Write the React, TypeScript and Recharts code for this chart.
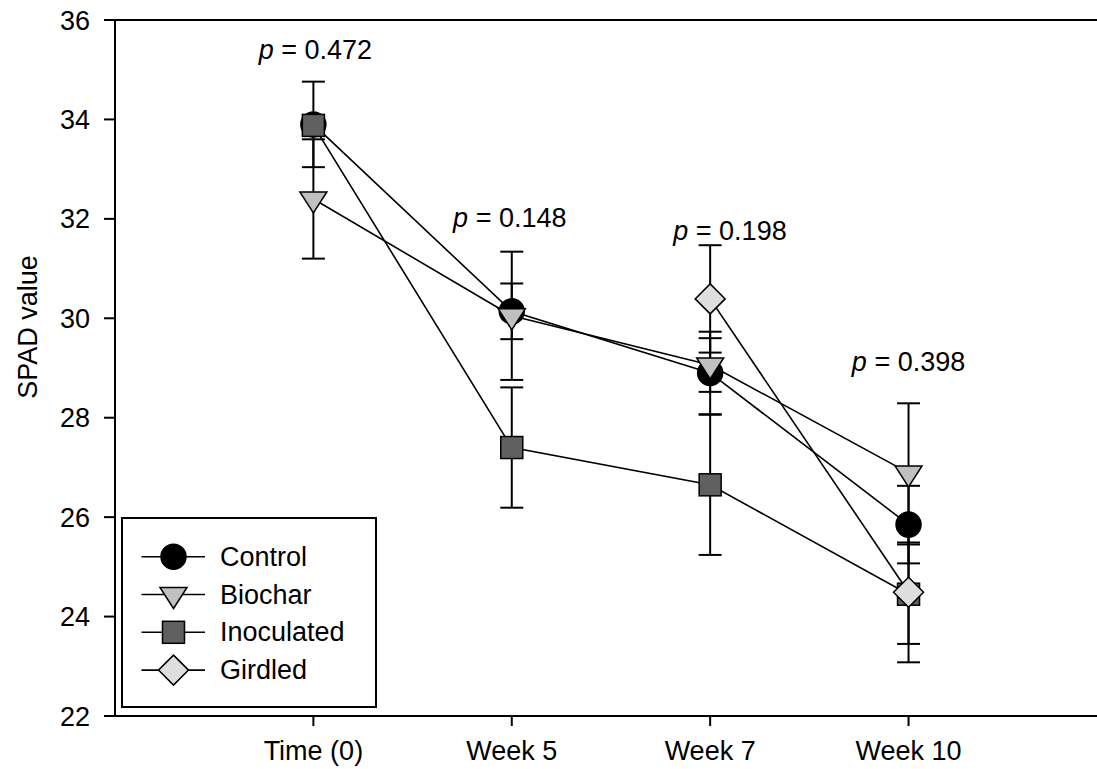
import { LineChart, Line, XAxis, YAxis, ErrorBar, ReferenceLine, ReferenceDot, Legend } from "recharts"

const weeks = ["Time (0)", "Week 5", "Week 7", "Week 10"]

const control = [33.9, 30.14, 28.9, 25.85]
const controlErr = [0.86, 0.56, 0.83, 0.78]
const biochar = [32.4, 30.05, 29.06, 26.89]
const biocharErr = [1.2, 1.29, 0.54, 1.4]
const inoculated = [33.88, 27.4, 26.65, 24.45]
const inoculatedErr = [0.15, 1.21, 1.41, 1.0]
const girdled = [null, null, 30.39, 24.49]
const girdledErr = [null, null, 1.08, 1.41]

const pValues = ["0.472", "0.148", "0.198", "0.398"]
const pLabelX = [1.01, 1.99, 3.1, 4.0]
const pLabelY = [35.4, 32.02, 31.76, 29.12]

const yTicks = [22, 24, 26, 28, 30, 32, 34, 36]

const FONT = "'Liberation Sans', Arial, sans-serif"
const FS = 27

const series = [
  { key: "control", name: "Control", kind: "circle", fill: "#000000" },
  { key: "biochar", name: "Biochar", kind: "triangle", fill: "#c0c0c0" },
  { key: "inoculated", name: "Inoculated", kind: "square", fill: "#606060" },
  { key: "girdled", name: "Girdled", kind: "diamond", fill: "#dedede" },
]

const data = weeks.map((w, i) => ({
  x: i + 1,
  name: w,
  control: control[i],
  controlErr: controlErr[i],
  biochar: biochar[i],
  biocharErr: biocharErr[i],
  inoculated: inoculated[i],
  inoculatedErr: inoculatedErr[i],
  girdled: girdled[i],
  girdledErr: girdledErr[i],
}))

function Marker({ kind, cx, cy, fill }: { kind: string; cx: number; cy: number; fill: string }) {
  if (cx == null || cy == null || isNaN(cx) || isNaN(cy)) return null
  const s = { fill, stroke: "#000", strokeWidth: 1.5 }
  if (kind === "circle") return <circle cx={cx} cy={cy} r={12.5} {...s} />
  if (kind === "triangle")
    return <polygon points={`${cx - 13.5},${cy - 7} ${cx + 13.5},${cy - 7} ${cx},${cy + 14}`} {...s} />
  if (kind === "square") return <rect x={cx - 11} y={cy - 11} width={22} height={22} {...s} />
  return <polygon points={`${cx},${cy - 15} ${cx + 15},${cy} ${cx},${cy + 15} ${cx - 15},${cy}`} {...s} />
}

function LegendBox() {
  return (
    <svg width={257} height={192} style={{ display: "block" }}>
      <rect x={1} y={1} width={254} height={189} fill="#fff" stroke="#000" strokeWidth={2} />
      {series.map((s, i) => {
        const cy = 39.7 + i * 37.8
        return (
          <g key={s.key}>
            <line x1={20.5} x2={84} y1={cy} y2={cy} stroke="#000" strokeWidth={1.6} />
            <Marker kind={s.kind} cx={52.5} cy={cy} fill={s.fill} />
            <text x={99} y={cy} dominantBaseline="central" fontSize={FS} fontFamily={FONT} fill="#000">
              {s.name}
            </text>
          </g>
        )
      })}
    </svg>
  )
}

export default function App() {
  return (
    <div style={{ position: "absolute", left: 0, top: 0, fontFamily: FONT }}>
      <LineChart width={1097} height={769} data={data} margin={{ top: 20, right: 0, bottom: 0, left: 0 }}>
        <XAxis
          dataKey="x"
          type="number"
          domain={[0, 4.95]}
          ticks={[1, 2, 3, 4]}
          allowDataOverflow
          tickFormatter={(v: number) => weeks[v - 1]}
          height={53}
          tickSize={10}
          tickMargin={15}
          axisLine={{ stroke: "#000", strokeWidth: 2 }}
          tickLine={{ stroke: "#000", strokeWidth: 2 }}
          tick={{ fontSize: FS, fill: "#000", fontFamily: FONT }}
        />
        <YAxis
          type="number"
          domain={[22, 36]}
          ticks={yTicks}
          width={115}
          tickSize={11}
          tickMargin={14}
          axisLine={{ stroke: "#000", strokeWidth: 2 }}
          tickLine={{ stroke: "#000", strokeWidth: 2 }}
          tick={{ fontSize: FS, fill: "#000", fontFamily: FONT }}
          label={{
            content: () => (
              <text
                x={28}
                y={327}
                transform="rotate(-90 28 327)"
                textAnchor="middle"
                dominantBaseline="central"
                fontSize={FS}
                fontFamily={FONT}
                fill="#000"
              >
                SPAD value
              </text>
            ),
          }}
        />
        <ReferenceLine y={36} stroke="#000" strokeWidth={2} />
        {series.map((s) => (
          <Line
            key={s.key}
            dataKey={s.key}
            stroke="#000"
            strokeWidth={1.6}
            isAnimationActive={false}
            activeDot={false}
            dot={(p: any) => <Marker key={`${s.key}-${p.index}`} kind={s.kind} cx={p.cx} cy={p.cy} fill={s.fill} />}
          >
            <ErrorBar dataKey={`${s.key}Err`} direction="y" width={11.5} stroke="#000" strokeWidth={2} />
          </Line>
        ))}
        {pValues.map((pv, i) => (
          <ReferenceDot
            key={pv + i}
            x={pLabelX[i]}
            y={pLabelY[i]}
            r={0}
            shape={() => <g />}
            label={{
              content: (lp: any) => {
                const vb = lp.viewBox || {}
                const cx = (vb.x ?? 0) + (vb.width ?? 0) / 2
                const cy = (vb.y ?? 0) + (vb.height ?? 0) / 2
                return (
                  <text x={cx} y={cy} textAnchor="middle" dominantBaseline="central" fontSize={FS} fontFamily={FONT} fill="#000">
                    <tspan fontStyle="italic">p</tspan>
                    {" = " + pv}
                  </text>
                )
              },
            }}
          />
        ))}
        <Legend
          layout="vertical"
          align="center"
          verticalAlign="middle"
          wrapperStyle={{ left: 121, top: 517, width: 257, height: 192 }}
          content={() => <LegendBox />}
        />
      </LineChart>
    </div>
  )
}
